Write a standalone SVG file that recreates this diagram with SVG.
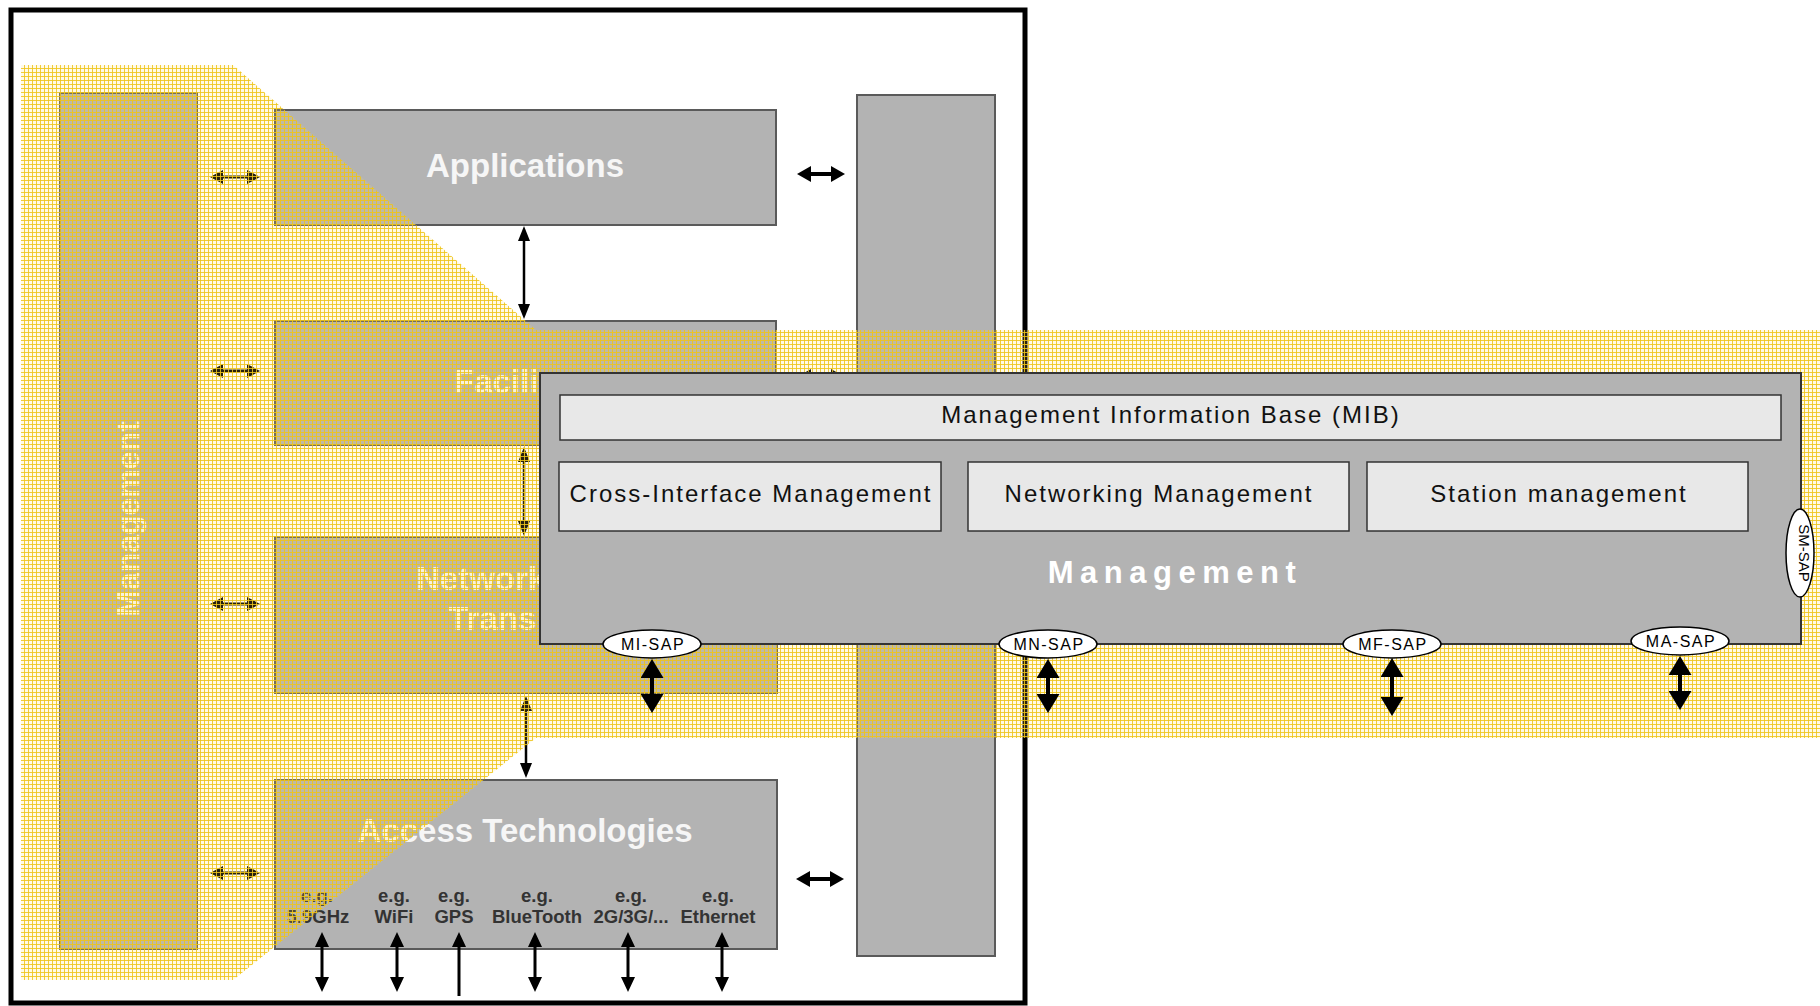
<svg xmlns="http://www.w3.org/2000/svg" width="1820" height="1006" viewBox="0 0 1820 1006">
<defs>
<style>
.gbox{fill:#b3b3b3;stroke:#5a5a5a;stroke-width:2}
.wt{font-family:"Liberation Sans",Arial,sans-serif;font-weight:bold;font-size:33px;fill:#f6f6f6}
.eg{font-family:"Liberation Sans",Arial,sans-serif;font-weight:bold;font-size:18.5px;fill:#333;text-anchor:middle}
.sub{fill:#e8e8e8;stroke:#333;stroke-width:1.5}
.st{font-family:"Liberation Sans",Arial,sans-serif;font-size:24px;letter-spacing:2px;fill:#111;text-anchor:middle}
.sap{fill:#fff;stroke:#000;stroke-width:1.5}
.sapt{font-family:"Liberation Sans",Arial,sans-serif;font-size:16px;letter-spacing:1.5px;fill:#000;text-anchor:middle}
.c{stroke:#000;fill:none}
</style>
<pattern id="hatch" patternUnits="userSpaceOnUse" width="4" height="4">
<rect width="4" height="4" fill="#ffdf60" fill-opacity="0.15"/>
<rect width="4" height="1" fill="#efc41a" fill-opacity="0.85"/>
<rect width="1" height="4" fill="#efc41a" fill-opacity="0.85"/>
</pattern>
<marker id="mSm" viewBox="0 0 13 14" refX="0" refY="7" markerWidth="13" markerHeight="14" markerUnits="userSpaceOnUse" orient="auto-start-reverse"><path d="M0,0 L13,7 L0,14 Z" fill="#000"/></marker>
<marker id="mBold" viewBox="0 0 14 16" refX="0" refY="8" markerWidth="14" markerHeight="16" markerUnits="userSpaceOnUse" orient="auto-start-reverse"><path d="M0,0 L14,8 L0,16 Z" fill="#000"/></marker>
<marker id="mV" viewBox="0 0 15 12" refX="0" refY="6" markerWidth="15" markerHeight="12" markerUnits="userSpaceOnUse" orient="auto-start-reverse"><path d="M0,0 L15,6 L0,12 Z" fill="#000"/></marker>
<marker id="mAcc" viewBox="0 0 15 14" refX="0" refY="7" markerWidth="15" markerHeight="14" markerUnits="userSpaceOnUse" orient="auto-start-reverse"><path d="M0,0 L15,7 L0,14 Z" fill="#000"/></marker>
<marker id="mSap" viewBox="0 0 19 23" refX="0" refY="11.5" markerWidth="19" markerHeight="23" markerUnits="userSpaceOnUse" orient="auto-start-reverse"><path d="M0,0 L19,11.5 L0,23 Z" fill="#000"/></marker>
</defs>
<rect width="1820" height="1006" fill="#fff"/>
<rect id="frame" x="11" y="10" width="1014" height="993" fill="#fff" stroke="#000" stroke-width="5"/>

<g id="mgmt-column">
<rect class="gbox" x="60" y="93" width="137" height="856"/>
<text class="wt" transform="translate(139,519) rotate(-90)" text-anchor="middle" style="font-size:32px">Management</text>
</g>
<g id="security-column">
<rect class="gbox" x="857" y="95" width="138" height="861"/>
</g>
<g id="applications">
<rect class="gbox" x="275" y="110" width="501" height="115"/>
<text class="wt" x="525" y="177" text-anchor="middle">Applications</text>
</g>
<g id="facilities">
<rect class="gbox" x="275" y="321" width="501" height="124"/>
<text class="wt" x="454" y="393">Facili</text>
</g>
<g id="networking">
<rect class="gbox" x="275" y="537" width="502" height="156"/>
<text class="wt" x="416" y="590">Network</text>
<text class="wt" x="448" y="630">Trans</text>
</g>
<g id="access">
<rect class="gbox" x="275" y="780" width="502" height="169"/>
<text class="wt" x="525" y="842" text-anchor="middle">Access Technologies</text>
<text class="eg" x="317" y="902">e.g.</text><text class="eg" x="318" y="923">5.9GHz</text>
<text class="eg" x="394" y="902">e.g.</text><text class="eg" x="394" y="923">WiFi</text>
<text class="eg" x="454" y="902">e.g.</text><text class="eg" x="454" y="923">GPS</text>
<text class="eg" x="537" y="902">e.g.</text><text class="eg" x="537" y="923">BlueTooth</text>
<text class="eg" x="631" y="902">e.g.</text><text class="eg" x="631" y="923">2G/3G/...</text>
<text class="eg" x="718" y="902">e.g.</text><text class="eg" x="718" y="923">Ethernet</text>
</g>

<g id="connectors-left">
<line class="c" x1="223" y1="177" x2="247" y2="177" stroke-width="3" marker-start="url(#mSm)" marker-end="url(#mSm)"/>
<line class="c" x1="223" y1="371" x2="247" y2="371" stroke-width="3" marker-start="url(#mSm)" marker-end="url(#mSm)"/>
<line class="c" x1="223" y1="604" x2="247" y2="604" stroke-width="3" marker-start="url(#mSm)" marker-end="url(#mSm)"/>
<line class="c" x1="223" y1="873" x2="247" y2="873" stroke-width="3" marker-start="url(#mSm)" marker-end="url(#mSm)"/>
<line class="c" x1="811" y1="174" x2="831" y2="174" stroke-width="4" marker-start="url(#mBold)" marker-end="url(#mBold)"/>
<line class="c" x1="811" y1="377" x2="831" y2="377" stroke-width="4" marker-start="url(#mBold)" marker-end="url(#mBold)"/>
<line class="c" x1="810" y1="879" x2="830" y2="879" stroke-width="4" marker-start="url(#mBold)" marker-end="url(#mBold)"/>
<line class="c" x1="524" y1="241" x2="524" y2="304" stroke-width="2.5" marker-start="url(#mV)" marker-end="url(#mV)"/>
<line class="c" x1="524" y1="462" x2="524" y2="521" stroke-width="2.5" marker-start="url(#mV)" marker-end="url(#mV)"/>
<line class="c" x1="526" y1="711" x2="526" y2="763" stroke-width="2.5" marker-start="url(#mV)" marker-end="url(#mV)"/>
<line class="c" x1="322" y1="947" x2="322" y2="977" stroke-width="3" marker-start="url(#mAcc)" marker-end="url(#mAcc)"/>
<line class="c" x1="397" y1="947" x2="397" y2="977" stroke-width="3" marker-start="url(#mAcc)" marker-end="url(#mAcc)"/>
<line class="c" x1="459" y1="947" x2="459" y2="996" stroke-width="3" marker-start="url(#mAcc)"/>
<line class="c" x1="535" y1="947" x2="535" y2="977" stroke-width="3" marker-start="url(#mAcc)" marker-end="url(#mAcc)"/>
<line class="c" x1="628" y1="947" x2="628" y2="977" stroke-width="3" marker-start="url(#mAcc)" marker-end="url(#mAcc)"/>
<line class="c" x1="722" y1="947" x2="722" y2="977" stroke-width="3" marker-start="url(#mAcc)" marker-end="url(#mAcc)"/>
</g>

<g id="zoom-highlight">
<polygon points="21,65 233,65 536,330 1820,330 1820,738 536,738 233,980 21,980" fill="url(#hatch)"/>
</g>

<g id="management-detail">
<rect x="540" y="373" width="1261" height="271" fill="#b3b3b3" stroke="#333" stroke-width="2"/>
<text x="1175" y="583" font-family="'Liberation Sans',Arial,sans-serif" font-weight="bold" font-size="31" letter-spacing="6.5" fill="#fff" text-anchor="middle">Management</text>
</g>
<g id="mib">
<rect class="sub" x="560" y="395" width="1221" height="45"/>
<text class="st" x="1171" y="423">Management Information Base (MIB)</text>
</g>
<g id="cross-interface">
<rect class="sub" x="559" y="462" width="382" height="69"/>
<text class="st" x="751" y="502">Cross-Interface Management</text>
</g>
<g id="networking-mgmt">
<rect class="sub" x="968" y="462" width="381" height="69"/>
<text class="st" x="1159" y="502">Networking Management</text>
</g>
<g id="station-mgmt">
<rect class="sub" x="1367" y="462" width="381" height="69"/>
<text class="st" x="1559" y="502">Station management</text>
</g>
<g id="mi-sap"><ellipse class="sap" cx="652" cy="644" rx="49" ry="14"/><text class="sapt" x="653" y="650">MI-SAP</text></g>
<g id="mn-sap"><ellipse class="sap" cx="1048" cy="644" rx="49" ry="14"/><text class="sapt" x="1049" y="650">MN-SAP</text></g>
<g id="mf-sap"><ellipse class="sap" cx="1392" cy="644" rx="49" ry="14"/><text class="sapt" x="1393" y="650">MF-SAP</text></g>
<g id="ma-sap"><ellipse class="sap" cx="1680" cy="641" rx="49" ry="14"/><text class="sapt" x="1681" y="647">MA-SAP</text></g>
<g id="sm-sap"><ellipse class="sap" cx="1800" cy="553" rx="14" ry="44"/><text transform="translate(1799,553) rotate(90)" font-family="'Liberation Sans',Arial,sans-serif" font-size="15" fill="#000" text-anchor="middle">SM-SAP</text></g>

<g id="connectors-sap">
<line class="c" x1="652" y1="678" x2="652" y2="694" stroke-width="4" marker-start="url(#mSap)" marker-end="url(#mSap)"/>
<line class="c" x1="1048" y1="678" x2="1048" y2="694" stroke-width="4" marker-start="url(#mSap)" marker-end="url(#mSap)"/>
<line class="c" x1="1392" y1="677" x2="1392" y2="697" stroke-width="4" marker-start="url(#mSap)" marker-end="url(#mSap)"/>
<line class="c" x1="1680" y1="675" x2="1680" y2="691" stroke-width="4" marker-start="url(#mSap)" marker-end="url(#mSap)"/>
</g>
</svg>
